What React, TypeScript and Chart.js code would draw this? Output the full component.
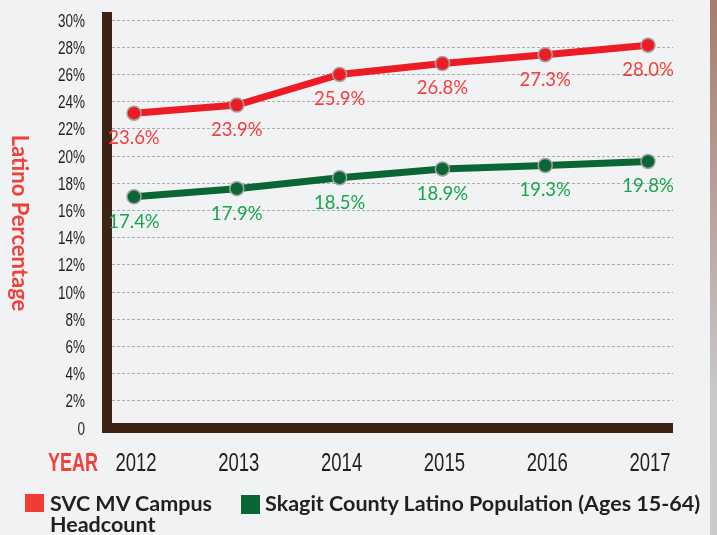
import React, { useEffect, useRef } from "react";
import { Chart, registerables } from "chart.js";

Chart.register(...registerables);

const years = ["2012", "2013", "2014", "2015", "2016", "2017"];
// plotted positions
const svcValues = [23.15, 23.75, 26.0, 26.8, 27.45, 28.15];
const skagitValues = [17.0, 17.6, 18.4, 19.05, 19.3, 19.6];
// printed data labels
const svcLabels = ["23.6%", "23.9%", "25.9%", "26.8%", "27.3%", "28.0%"];
const skagitLabels = ["17.4%", "17.9%", "18.5%", "18.9%", "19.3%", "19.8%"];
const yTicks = [0, 2, 4, 6, 8, 10, 12, 14, 16, 18, 20, 22, 24, 26, 28, 30];
const seriesNames = ["SVC MV Campus Headcount", "Skagit County Latino Population (Ages 15-64)"];

const RED = "#ed1c24";
const GREEN = "#0b6636";
const RED_TXT = "#f0403c";
const GREEN_TXT = "#19a64b";
const AXIS = "#3d2314";
const INK = "#231f20";

function condensedText(ctx: CanvasRenderingContext2D, text: string, x: number, y: number, font: string, sx: number, align: "left" | "center" | "right") {
  ctx.save();
  ctx.font = font;
  ctx.textBaseline = "alphabetic";
  ctx.textAlign = align;
  ctx.translate(x, y);
  ctx.scale(sx, 1);
  ctx.fillText(text, 0, 0);
  ctx.restore();
}

export default function App() {
  const ref = useRef<HTMLCanvasElement | null>(null);

  useEffect(() => {
    document.body.style.margin = "0";
    const canvas = ref.current!;
    const labelsPlugin = {
      id: "custom",
      beforeDatasetsDraw(chart: any) {
        const ctx = chart.ctx;
        ctx.save();
        ctx.fillStyle = AXIS;
        ctx.fillRect(102, 12, 10, 421);
        ctx.fillRect(102, 423, 571, 10);
        // tick labels (condensed)
        ctx.fillStyle = INK;
        const ys = chart.scales.y;
        yTicks.forEach((v) => {
          const py = ys.getPixelForValue(v);
          condensedText(ctx, v === 0 ? "0" : v + "%", 85, py + 6.5, "18px 'Liberation Sans'", 0.75, "right");
        });
        const xs = chart.scales.x;
        years.forEach((y) => {
          const px = xs.getPixelForValue(Number(y));
          condensedText(ctx, y, px + 2, 471, "25px 'Liberation Sans'", 0.74, "center");
        });
        ctx.fillStyle = RED_TXT;
        condensedText(ctx, "YEAR", 48, 471, "bold 25px 'Liberation Sans'", 0.72, "left");
        ctx.restore();
      },
      afterDatasetsDraw(chart: any) {
        const ctx = chart.ctx;
        ctx.save();
        ctx.font = "18.5px Lato";
        ctx.textAlign = "center";
        ctx.textBaseline = "middle";
        const sets = [svcLabels, skagitLabels];
        const cols = [RED_TXT, GREEN_TXT];
        sets.forEach((labs, di) => {
          const meta = chart.getDatasetMeta(di);
          ctx.fillStyle = cols[di];
          meta.data.forEach((pt: any, i: number) => {
            ctx.fillText(labs[i], pt.x, pt.y + 25);
          });
        });
        // y title
        ctx.save();
        ctx.translate(19, 223);
        ctx.rotate(Math.PI / 2);
        ctx.font = "bold 22px Lato";
        ctx.fillStyle = RED_TXT;
        ctx.fillText("Latino Percentage", 0, 0);
        ctx.restore();
        ctx.restore();
      },
    };

    const chart = new Chart(canvas, {
      type: "line",
      data: {
        datasets: [
          {
            label: seriesNames[0],
            data: years.map((y, i) => ({ x: Number(y), y: svcValues[i] })),
            borderColor: RED,
            backgroundColor: RED,
            borderWidth: 7,
            pointRadius: 7,
            pointBackgroundColor: RED,
            pointBorderColor: "#a3a3a3",
            pointBorderWidth: 1.5,
          },
          {
            label: seriesNames[1],
            data: years.map((y, i) => ({ x: Number(y), y: skagitValues[i] })),
            borderColor: GREEN,
            backgroundColor: GREEN,
            borderWidth: 7,
            pointRadius: 7,
            pointBackgroundColor: GREEN,
            pointBorderColor: "#a3a3a3",
            pointBorderWidth: 1.5,
          },
        ],
      },
      options: {
        responsive: false,
        animation: false,
        layout: { padding: { top: 20, right: 44, left: 0, bottom: 0 } },
        plugins: { legend: { display: false }, tooltip: { enabled: false } },
        scales: {
          x: {
            type: "linear",
            min: 2011.786,
            max: 2017.243,
            afterFit: (s: any) => { s.height = 107; },
            grid: { display: false, drawTicks: false },
            border: { display: false },
            ticks: { display: false, stepSize: 1, includeBounds: false },
          },
          y: {
            min: 0,
            max: 30,
            afterFit: (s: any) => { s.width = 112; },
            afterBuildTicks: (s: any) => { s.ticks = yTicks.map((v) => ({ value: v })); },
            grid: { color: "#ababab", lineWidth: 1, drawTicks: false },
            border: { display: false, dash: [3, 2] },
            ticks: { display: false },
          },
        },
      },
      plugins: [labelsPlugin],
    } as any);
    return () => chart.destroy();
  }, []);

  const legText: React.CSSProperties = {
    position: "absolute",
    fontFamily: "Lato, sans-serif",
    fontWeight: 700,
    fontSize: 21.5,
    color: INK,
    lineHeight: "21px",
    whiteSpace: "nowrap",
  };

  return (
    <div style={{ position: "relative", width: 717, height: 535, background: "#f1f2f4", overflow: "hidden" }}>
      <canvas ref={ref} width={717} height={535} style={{ position: "absolute", left: 0, top: 0 }} />
      <div style={{ position: "absolute", left: 710, top: 0, width: 7, height: 535, background: "linear-gradient(#a87b6c, #c9c9cc 75%, #cacacd)" }} />
      <div style={{ position: "absolute", left: 25, top: 494, width: 19, height: 18, background: "#f03c37" }} />
      <div style={{ ...legText, left: 50, top: 493 }}>SVC MV Campus<br />Headcount</div>
      <div style={{ position: "absolute", left: 241, top: 495, width: 19, height: 19, background: GREEN }} />
      <div style={{ ...legText, left: 265, top: 493 }}>{seriesNames[1]}</div>
    </div>
  );
}
